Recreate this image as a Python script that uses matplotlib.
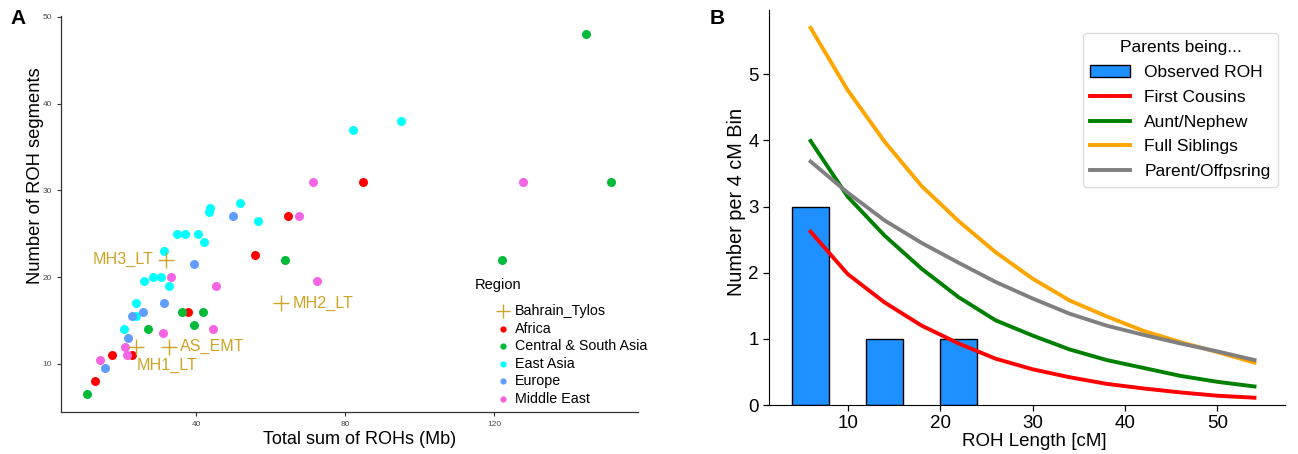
import matplotlib
matplotlib.use("Agg")
import matplotlib.pyplot as plt
from matplotlib.lines import Line2D

plt.rcParams['font.family'] = ['Liberation Sans', 'DejaVu Sans']

# ---------------- Panel A data ----------------
africa_x = [12.9, 17.4, 22.8, 37.9, 55.8, 64.7, 84.8]
africa_y = [8.0, 11.0, 11.0, 16.0, 22.5, 27.0, 31.0]

csasia_x = [10.7, 144.7, 151.4, 122.1, 63.9, 36.2, 41.8, 39.5, 27.0]
csasia_y = [6.5, 48.0, 31.0, 22.0, 22.0, 16.0, 16.0, 14.5, 14.0]

eastasia_x = [20.5, 23.9, 23.9, 25.9, 28.3, 30.5, 32.8, 31.4, 34.8, 36.9,
              40.6, 42.0, 43.7, 43.4, 51.8, 56.5, 82.2, 95.0]
eastasia_y = [14.0, 17.0, 15.5, 19.5, 20.0, 20.0, 19.0, 23.0, 25.0, 25.0,
              25.0, 24.0, 28.0, 27.5, 28.5, 26.5, 37.0, 38.0]

europe_x = [15.4, 21.7, 22.8, 25.6, 31.3, 39.4, 50.0]
europe_y = [9.5, 13.0, 15.5, 16.0, 17.0, 21.5, 27.0]

mideast_x = [14.2, 20.9, 21.5, 31.0, 44.4, 45.2, 33.2, 67.7, 71.3, 72.3, 127.8]
mideast_y = [10.5, 12.0, 11.0, 13.5, 14.0, 19.0, 20.0, 27.0, 31.0, 19.5, 31.0]

bahrain_names = ['MH3_LT', 'AS_EMT', 'MH1_LT', 'MH2_LT']
bahrain_x = [31.9, 32.8, 23.9, 62.8]
bahrain_y = [22.0, 12.0, 12.0, 17.0]

# ---------------- Panel B data ----------------
bin_centers = [6, 10, 14, 18, 22, 26, 30, 34, 38, 42, 46, 50, 54]
first_cousins = [2.62, 1.98, 1.55, 1.20, 0.93, 0.70, 0.54, 0.42, 0.32, 0.25, 0.19, 0.14, 0.11]
aunt_nephew = [3.99, 3.15, 2.56, 2.06, 1.63, 1.28, 1.05, 0.84, 0.68, 0.56, 0.44, 0.35, 0.28]
full_siblings = [5.70, 4.76, 3.98, 3.31, 2.78, 2.31, 1.91, 1.58, 1.34, 1.12, 0.95, 0.80, 0.64]
parent_offspring = [3.68, 3.21, 2.79, 2.45, 2.15, 1.86, 1.61, 1.38, 1.20, 1.06, 0.93, 0.81, 0.68]
obs_centers = [6, 14, 22]
obs_counts = [3, 1, 1]

W, H = 1298, 454
fig = plt.figure(figsize=(W / 100, H / 100), dpi=100)

# ---------------- Panel A ----------------
axA = fig.add_axes([61 / W, 1 - 412 / H, (638 - 61) / W, (412 - 16) / H])
gold = '#CFA425'
regions = [
    ('Africa', africa_x, africa_y, '#FF0000'),
    ('Central & South Asia', csasia_x, csasia_y, '#00BA38'),
    ('East Asia', eastasia_x, eastasia_y, '#00FFFF'),
    ('Europe', europe_x, europe_y, '#619CFF'),
    ('Middle East', mideast_x, mideast_y, '#F564E3'),
]
for name, xs, ys, c in regions:
    axA.scatter(xs, ys, s=42, color=c, linewidths=0, zorder=3)
axA.scatter(bahrain_x, bahrain_y, marker='+', s=120, color=gold, linewidths=1.0, zorder=4)

lab_off = {'MH3_LT': (28.5, 22.0, 'right'), 'AS_EMT': (35.7, 12.0, 'left'),
           'MH1_LT': (23.9, 9.8, 'left'), 'MH2_LT': (66.0, 17.0, 'left')}
for n in bahrain_names:
    lx, ly, ha = lab_off[n]
    axA.text(lx, ly, n, color=gold, fontsize=11.6, ha=ha, va='center')

axA.set_xlim(3.7, 158.6)
axA.set_ylim(4.45, 50.1)
axA.set_xticks([40, 80, 120])
axA.set_yticks([10, 20, 30, 40, 50])
axA.tick_params(labelsize=6, colors='#333333', labelcolor='#4D4D4D', length=3, width=0.8)
for s in ['top', 'right']:
    axA.spines[s].set_visible(False)
for s in ['left', 'bottom']:
    axA.spines[s].set_color('#333333')
    axA.spines[s].set_linewidth(0.9)
axA.set_xlabel('Total sum of ROHs (Mb)', fontsize=13)
axA.set_ylabel('Number of ROH segments', fontsize=13.2)
axA.xaxis.label.set_va('center')
axA.xaxis.set_label_coords((359.5 - 61) / 577, -(440 - 412) / 396)
axA.yaxis.set_label_coords((44 - 61) / 577, (412 - 176) / 396)

# manual ggplot-style legend
fig.text(475 / W, 1 - 285 / H, 'Region', fontsize=10.5, ha='left', va='center')
leg_items = [('Bahrain_Tylos', gold, '+')] + [(r[0], r[3], 'o') for r in regions]
for i, (lab, c, m) in enumerate(leg_items):
    yy = 1 - (311 + 17.6 * i) / H
    if m == '+':
        fig.lines.append(Line2D([503 / W], [yy], marker='+', color=gold, markersize=10,
                                markeredgewidth=1.0, linestyle='none',
                                transform=fig.transFigure))
    else:
        fig.lines.append(Line2D([503 / W], [yy], marker='o', color=c, markersize=4.5,
                                markeredgewidth=0, linestyle='none',
                                transform=fig.transFigure))
    fig.text(515 / W, yy, lab, fontsize=10.3, ha='left', va='center')

fig.text(10 / W, 1 - 18 / H, 'A', fontsize=15, fontweight='bold', va='center', ha='left')
fig.text(710 / W, 1 - 18 / H, 'B', fontsize=15, fontweight='bold', va='center', ha='left')

# ---------------- Panel B ----------------
axB = fig.add_axes([769 / W, 1 - 405 / H, (1285 - 769) / W, (405 - 10) / H])
bars = axB.bar(obs_centers, obs_counts, width=4, color='#1E90FF', edgecolor='black',
               linewidth=1.0, label='Observed ROH', zorder=2)
lw = 2.8
l1, = axB.plot(bin_centers, first_cousins, color='red', lw=lw, label='First Cousins', zorder=3)
l2, = axB.plot(bin_centers, aunt_nephew, color='green', lw=lw, label='Aunt/Nephew', zorder=3)
l3, = axB.plot(bin_centers, full_siblings, color='orange', lw=lw, label='Full Siblings', zorder=3)
l4, = axB.plot(bin_centers, parent_offspring, color='gray', lw=lw, label='Parent/Offpsring', zorder=3)
axB.set_xlim(1.5, 57.3)
axB.set_ylim(0, 5.97)
axB.set_xticks([10, 20, 30, 40, 50])
axB.set_yticks([0, 1, 2, 3, 4, 5])
axB.tick_params(labelsize=13.5, length=4, width=0.9)
for s in ['top', 'right']:
    axB.spines[s].set_visible(False)
axB.set_xlabel('ROH Length [cM]', fontsize=13.5)
axB.set_ylabel('Number per 4 cM Bin', fontsize=14.3)
axB.xaxis.label.set_va('center')
axB.xaxis.set_label_coords((1034.5 - 769) / 516, -(441 - 405) / 395)
axB.yaxis.set_label_coords((746 - 769) / 516, (405 - 201.5) / 395)
legB = axB.legend([bars, l1, l2, l3, l4],
                  ['Observed ROH', 'First Cousins', 'Aunt/Nephew', 'Full Siblings', 'Parent/Offpsring'],
                  title='Parents being...', loc='upper right',
                  bbox_to_anchor=(1287 / W, 1 - 24 / H), bbox_transform=fig.transFigure,
                  fontsize=12.5, title_fontsize=12.5, handlelength=2.3, labelspacing=0.55,
                  borderpad=0.45, framealpha=1, edgecolor='#dddddd', fancybox=True)

fig.savefig('out.png', dpi=100)
